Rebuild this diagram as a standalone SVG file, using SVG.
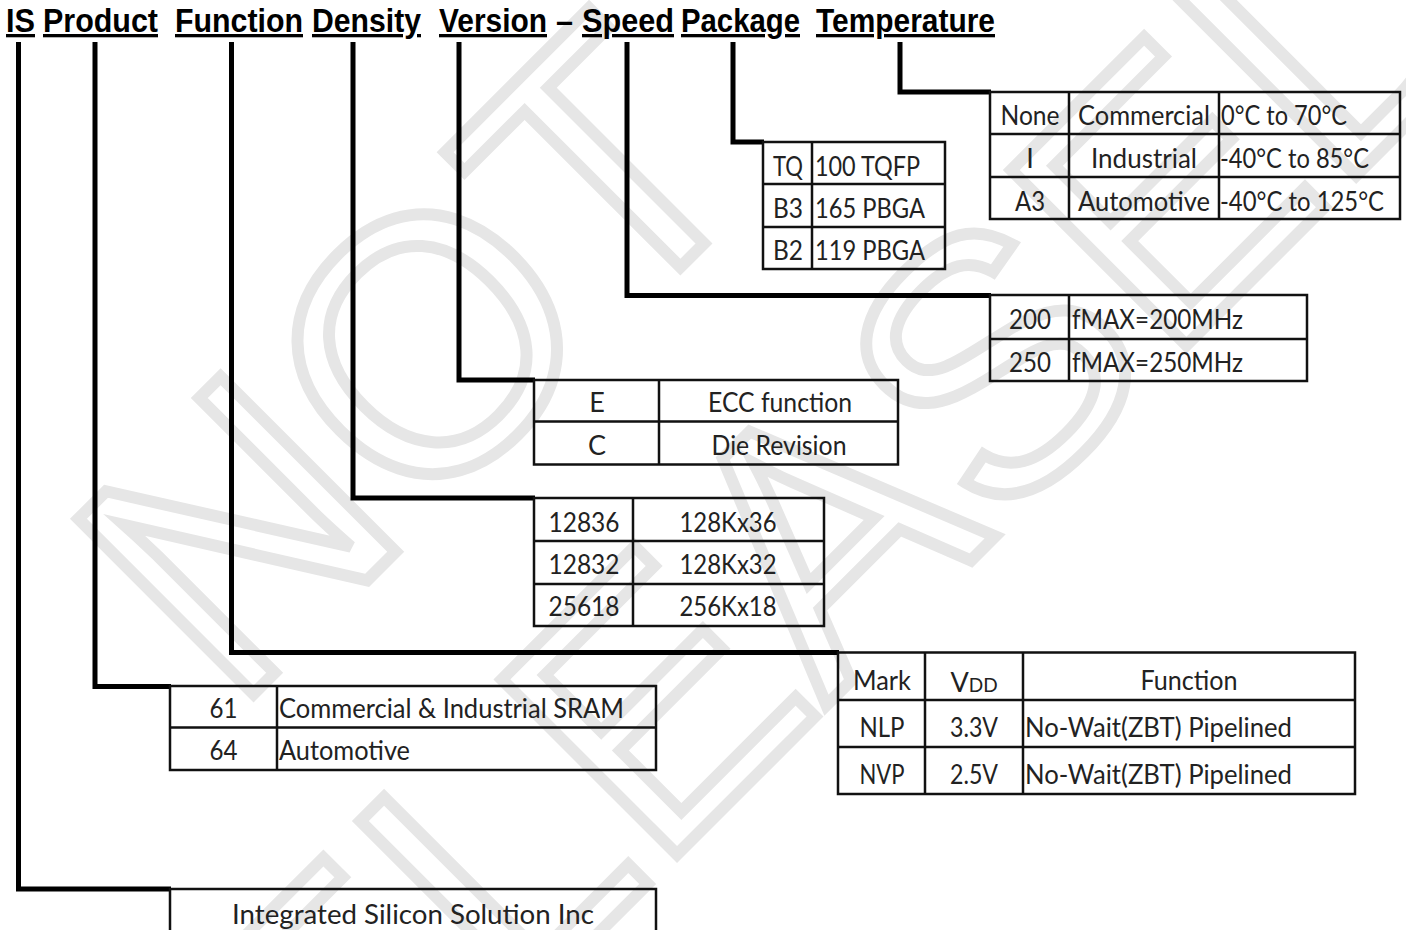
<svg xmlns="http://www.w3.org/2000/svg" width="1406" height="930" viewBox="0 0 1406 930">
<style>
.wm{font-family:"Liberation Sans",Arial,sans-serif;font-size:360px;fill:none;stroke:#e6e6e6;stroke-width:12;stroke-linejoin:miter}
.hd{font-family:"Liberation Sans",Arial,sans-serif;font-weight:bold;font-size:33px;fill:#000;text-decoration:underline}
.dash{font-family:"Liberation Sans",Arial,sans-serif;font-weight:bold;font-size:33px;fill:#000}
.cn{fill:none;stroke:#000;stroke-width:5;stroke-linejoin:miter;stroke-linecap:butt}
.tb{fill:none;stroke:#111;stroke-width:2.5}
.t{font-family:Lato,"Open Sans",sans-serif;font-size:27px;fill:#222}
.m{text-anchor:middle}
</style>
<g id="watermark" transform="rotate(-45)">
<text class="wm" x="39" y="670" text-anchor="middle">NOT</text>
<text class="wm" x="105" y="1083" text-anchor="middle">RELEASED</text>
</g>
<g id="header">
<text class="hd" x="6" y="32" textLength="29" lengthAdjust="spacingAndGlyphs">IS</text>
<text class="hd" x="43" y="32" textLength="115" lengthAdjust="spacingAndGlyphs">Product</text>
<text class="hd" x="175" y="32" textLength="128" lengthAdjust="spacingAndGlyphs">Function</text>
<text class="hd" x="312" y="32" textLength="109" lengthAdjust="spacingAndGlyphs">Density</text>
<text class="hd" x="439" y="32" textLength="108" lengthAdjust="spacingAndGlyphs">Version</text>
<text class="dash" x="556" y="32" textLength="17" lengthAdjust="spacingAndGlyphs">–</text>
<text class="hd" x="582" y="32" textLength="92" lengthAdjust="spacingAndGlyphs">Speed</text>
<text class="hd" x="681" y="32" textLength="119" lengthAdjust="spacingAndGlyphs">Package</text>
<text class="hd" x="816" y="32" textLength="179" lengthAdjust="spacingAndGlyphs">Temperature</text>
</g>
<g id="connectors">
<path class="cn" d="M18.5,42 V889 H171"/>
<path class="cn" d="M95,42 V686.5 H171"/>
<path class="cn" d="M231.5,42 V652.5 H839"/>
<path class="cn" d="M353,42 V498 H535"/>
<path class="cn" d="M459,42 V380 H535"/>
<path class="cn" d="M627,42 V295.5 H991"/>
<path class="cn" d="M733,42 V142 H764"/>
<path class="cn" d="M900,42 V92 H991"/>
</g>
<g id="temperature">
<rect class="tb" x="990" y="92" width="410" height="127"/>
<path class="tb" d="M1069,92 V219 M1219,92 V219 M990,134 H1400 M990,177 H1400"/>
<text class="t m" x="1030" y="125" textLength="59" lengthAdjust="spacingAndGlyphs">None</text>
<text class="t m" x="1144" y="125" textLength="132" lengthAdjust="spacingAndGlyphs">Commercial</text>
<text class="t" x="1221" y="125" textLength="126" lengthAdjust="spacingAndGlyphs">0°C to 70°C</text>
<text class="t m" x="1030" y="168">I</text>
<text class="t m" x="1144" y="168" textLength="106" lengthAdjust="spacingAndGlyphs">Industrial</text>
<text class="t" x="1220" y="168" textLength="149" lengthAdjust="spacingAndGlyphs">-40°C to 85°C</text>
<text class="t m" x="1030" y="211" textLength="30" lengthAdjust="spacingAndGlyphs">A3</text>
<text class="t m" x="1144" y="211" textLength="132" lengthAdjust="spacingAndGlyphs">Automotive</text>
<text class="t" x="1220" y="211" textLength="164" lengthAdjust="spacingAndGlyphs">-40°C to 125°C</text>
</g>
<g id="package">
<rect class="tb" x="763" y="142" width="182" height="127"/>
<path class="tb" d="M812,142 V269 M763,184 H945 M763,227 H945"/>
<text class="t" x="773" y="176" textLength="30" lengthAdjust="spacingAndGlyphs">TQ</text>
<text class="t" x="815" y="176" textLength="105" lengthAdjust="spacingAndGlyphs">100 TQFP</text>
<text class="t" x="773" y="218" textLength="30" lengthAdjust="spacingAndGlyphs">B3</text>
<text class="t" x="815" y="218" textLength="110" lengthAdjust="spacingAndGlyphs">165 PBGA</text>
<text class="t" x="773" y="260" textLength="30" lengthAdjust="spacingAndGlyphs">B2</text>
<text class="t" x="815" y="260" textLength="110" lengthAdjust="spacingAndGlyphs">119 PBGA</text>
</g>
<g id="speed">
<rect class="tb" x="990" y="295" width="317" height="86"/>
<path class="tb" d="M1069,295 V381 M990,339 H1307"/>
<text class="t m" x="1030" y="329" textLength="42" lengthAdjust="spacingAndGlyphs">200</text>
<text class="t" x="1072" y="329" textLength="171" lengthAdjust="spacingAndGlyphs">fMAX=200MHz</text>
<text class="t m" x="1030" y="372" textLength="42" lengthAdjust="spacingAndGlyphs">250</text>
<text class="t" x="1072" y="372" textLength="171" lengthAdjust="spacingAndGlyphs">fMAX=250MHz</text>
</g>
<g id="version">
<rect class="tb" x="534" y="380" width="364" height="84.5"/>
<path class="tb" d="M659,380 V464.5 M534,421.5 H898"/>
<text class="t m" x="597" y="412">E</text>
<text class="t m" x="780" y="412" textLength="144" lengthAdjust="spacingAndGlyphs">ECC function</text>
<text class="t m" x="597" y="455">C</text>
<text class="t m" x="779" y="455" textLength="135" lengthAdjust="spacingAndGlyphs">Die Revision</text>
</g>
<g id="density">
<rect class="tb" x="534" y="498" width="290" height="128"/>
<path class="tb" d="M633,498 V626 M534,541 H824 M534,584 H824"/>
<text class="t m" x="584" y="532" textLength="71" lengthAdjust="spacingAndGlyphs">12836</text>
<text class="t m" x="728" y="532" textLength="97" lengthAdjust="spacingAndGlyphs">128Kx36</text>
<text class="t m" x="584" y="574" textLength="71" lengthAdjust="spacingAndGlyphs">12832</text>
<text class="t m" x="728" y="574" textLength="97" lengthAdjust="spacingAndGlyphs">128Kx32</text>
<text class="t m" x="584" y="616" textLength="71" lengthAdjust="spacingAndGlyphs">25618</text>
<text class="t m" x="728" y="616" textLength="97" lengthAdjust="spacingAndGlyphs">256Kx18</text>
</g>
<g id="function">
<rect class="tb" x="838" y="652.5" width="517" height="141.5"/>
<path class="tb" d="M925,652.5 V794 M1023,652.5 V794 M838,700 H1355 M838,747 H1355"/>
<text class="t m" x="882" y="690" textLength="58" lengthAdjust="spacingAndGlyphs">Mark</text>
<text class="t m" x="974" y="692">V<tspan font-size="19px">DD</tspan></text>
<text class="t m" x="1189" y="690" textLength="97" lengthAdjust="spacingAndGlyphs">Function</text>
<text class="t m" x="882" y="737" textLength="45" lengthAdjust="spacingAndGlyphs">NLP</text>
<text class="t m" x="974" y="737" textLength="48" lengthAdjust="spacingAndGlyphs">3.3V</text>
<text class="t" x="1025" y="737" textLength="267" lengthAdjust="spacingAndGlyphs">No-Wait(ZBT) Pipelined</text>
<text class="t m" x="882" y="784" textLength="45" lengthAdjust="spacingAndGlyphs">NVP</text>
<text class="t m" x="974" y="784" textLength="48" lengthAdjust="spacingAndGlyphs">2.5V</text>
<text class="t" x="1025" y="784" textLength="267" lengthAdjust="spacingAndGlyphs">No-Wait(ZBT) Pipelined</text>
</g>
<g id="product">
<rect class="tb" x="170" y="686" width="486" height="84"/>
<path class="tb" d="M277,686 V770 M170,727.5 H656"/>
<text class="t m" x="223.5" y="718" textLength="28" lengthAdjust="spacingAndGlyphs">61</text>
<text class="t" x="279" y="718" textLength="345" lengthAdjust="spacingAndGlyphs">Commercial &amp; Industrial SRAM</text>
<text class="t m" x="223.5" y="760" textLength="28" lengthAdjust="spacingAndGlyphs">64</text>
<text class="t" x="279" y="760" textLength="131" lengthAdjust="spacingAndGlyphs">Automotive</text>
</g>
<g id="company">
<rect class="tb" x="170" y="889" width="486" height="60"/>
<text class="t m" x="413" y="924" textLength="362" lengthAdjust="spacingAndGlyphs">Integrated Silicon Solution Inc</text>
</g>
</svg>
